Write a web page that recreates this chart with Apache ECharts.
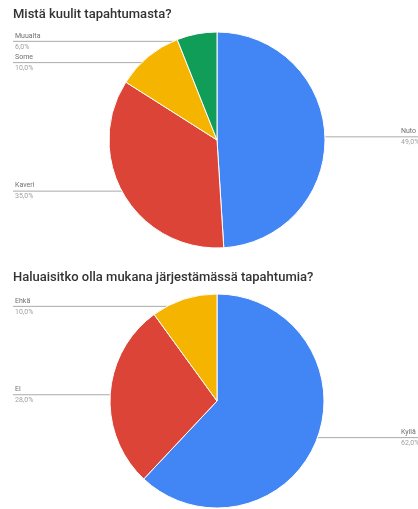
<!DOCTYPE html>
<html><head><meta charset="utf-8">
<script src="https://cdn.jsdelivr.net/npm/echarts@6/dist/echarts.min.js"></script>
<style>html,body{margin:0;padding:0;background:#fff}#c{width:418px;height:509px}</style>
</head><body><div id="c"></div>
<script>
const title1 = 'Mistä kuulit tapahtumasta?';
const cats1 = ['Nuto', 'Kaveri', 'Some', 'Muualta'];
const vals1 = [49, 35, 10, 6];
const title2 = 'Haluaisitko olla mukana järjestämässä tapahtumia?';
const cats2 = ['Kyllä', 'Ei', 'Ehkä'];
const vals2 = [62, 28, 10];

const colors = ['#4285F4', '#DB4437', '#F4B400', '#0F9D58'];
const W = 418;
const centers = [[217, 140], [217, 401]];
const radii = [108, 107];

function fmt(p) {
  return '{n|' + p.name + '}\n{p|' + p.percent.toFixed(1).replace('.', ',') + '%}';
}

function makeLayout(si) {
  return function (params) {
    const c = centers[si];
    const pts = params.labelLinePoints;
    if (!pts) return {};
    const p0 = pts[0];
    const ax = c[0] + (p0[0] - c[0]) * 0.93;
    const ay = c[1] + (p0[1] - c[1]) * 0.93;
    const left = ax < c[0];
    const lx = left ? 15 : 401;
    return {
      x: lx,
      y: ay,
      align: 'left',
      verticalAlign: 'middle',
      labelLinePoints: [[ax, ay], [ax, ay], [left ? 13 : W, ay]]
    };
  };
}

function series(si, cats, vals) {
  return {
    type: 'pie',
    center: centers[si],
    radius: radii[si],
    startAngle: 90,
    clockwise: true,
    animation: false,
    avoidLabelOverlap: false,
    itemStyle: { borderColor: '#fff', borderWidth: 1 },
    data: cats.map((n, i) => ({ name: n, value: vals[i], itemStyle: { color: colors[i] } })),
    label: {
      show: true,
      position: 'outside',
      formatter: fmt,
      rich: {
        n: { fontSize: 7, color: '#707070', lineHeight: 11, fontFamily: 'Roboto' },
        p: { fontSize: 7, color: '#a0a0a0', lineHeight: 11, fontFamily: 'Roboto' }
      }
    },
    labelLine: { show: true, length: 10, length2: 10, lineStyle: { color: '#aaa', width: 1 } },
    labelLayout: makeLayout(si),
    emphasis: { disabled: true }
  };
}

const chart = echarts.init(document.getElementById('c'), null, { renderer: 'canvas' });
chart.setOption({
  backgroundColor: '#fff',
  animation: false,
  title: [
    { text: title1, left: 13, top: 8, padding: 0, textStyle: { fontSize: 13, fontWeight: 500, color: '#333', fontFamily: 'Roboto' } },
    { text: title2, left: 13, top: 271, padding: 0, textStyle: { fontSize: 13, fontWeight: 500, color: '#333', fontFamily: 'Roboto' } }
  ],
  series: [series(0, cats1, vals1), series(1, cats2, vals2)]
});
</script></body></html>
